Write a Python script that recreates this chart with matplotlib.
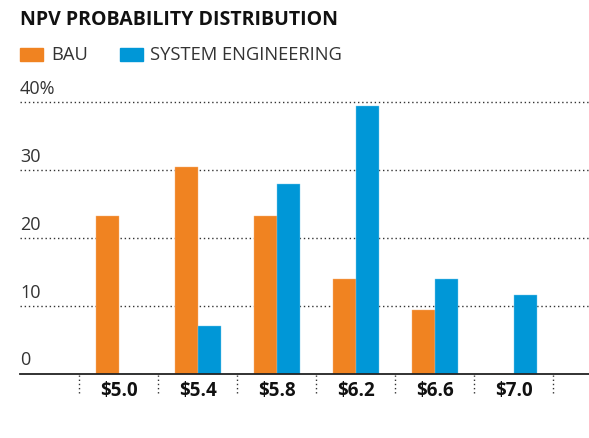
import numpy as np
import matplotlib
matplotlib.use("Agg")
import matplotlib.pyplot as plt
from matplotlib.patches import Rectangle

plt.rcParams['font.family'] = ['Open Sans', 'DejaVu Sans']

# NPV bins (billions) and probability of each outcome, in percent
npv_labels = ['$5.0', '$5.4', '$5.8', '$6.2', '$6.6', '$7.0']
bau = [23.3, 30.4, 23.3, 13.9, 9.3, 0.0]
system_eng = [0.0, 7.0, 28.0, 39.5, 13.9, 11.6]
y_ticks = [0, 10, 20, 30, 40]
y_tick_labels = ['0', '10', '20', '30', '40%']

ORANGE = '#F08321'
BLUE = '#0097D7'
TEXT = '#333333'

fig = plt.figure(figsize=(5.89, 4.38), dpi=100)
W, H = 589, 438

# axes placed in pixel terms: left edge at 20px, baseline at y=373.5px
ax_left, ax_right = 20, 589
base_px, top_px = 373.5, 102.3
ax = fig.add_axes([ax_left / W, (H - base_px) / H,
                   (ax_right - ax_left) / W, (base_px - top_px) / H])

x = np.arange(len(npv_labels))
step_px = 79.0
first_px = 118.5
xmin = (ax_left - first_px) / step_px
xmax = (ax_right - first_px) / step_px
ax.set_xlim(xmin, xmax)
ax.set_ylim(0, 40)

bw = 23 / step_px
ax.bar(x - bw / 2, bau, width=bw, color=ORANGE, edgecolor='#F6B27A',
       linewidth=0.3, zorder=3)
ax.bar(x + bw / 2, system_eng, width=bw, color=BLUE, edgecolor='#7CCBEE',
       linewidth=0.3, zorder=3)

# dotted horizontal gridlines
for v in y_ticks[1:]:
    ax.axhline(v, color=TEXT, linestyle=(0, (1, 2)), linewidth=1.0,
               zorder=1, clip_on=False)

for s in ['top', 'right', 'left']:
    ax.spines[s].set_visible(False)
ax.spines['bottom'].set_color('#222222')
ax.spines['bottom'].set_linewidth(1.3)
ax.spines['bottom'].set_zorder(4)

ax.set_yticks([])
ax.set_xticks([])

# y labels sit just above their gridlines at the far left
for v, lab in zip(y_ticks, y_tick_labels):
    ax.text(xmin, v + 0.6, lab, ha='left', va='bottom', fontsize=13,
            color=TEXT)

# category labels and dotted separators under the baseline
sep_depth = 2.9
for xi, lab in zip(x, npv_labels):
    ax.text(xi, -2.65, lab, ha='center', va='center', fontsize=13.5,
            fontweight='bold', color='#111111', clip_on=False)
for xs in np.arange(len(npv_labels) + 1) - 0.5:
    ax.plot([xs, xs], [-sep_depth, -0.2], color=TEXT, linestyle=(0, (1, 2)),
            linewidth=1.0, clip_on=False)

# title
fig.text(20 / W, 1 - 20 / H, 'NPV PROBABILITY DISTRIBUTION', ha='left',
         va='center', fontsize=14, fontweight='bold', color='#111111')

# legend drawn by hand: swatch then label
legend_y = 54.5
for x0, col, lab, tx in [(20, ORANGE, 'BAU', 51), (120, BLUE, 'SYSTEM ENGINEERING', 150)]:
    fig.patches.append(Rectangle((x0 / W, 1 - 61 / H), 23 / W, 13 / H,
                                 transform=fig.transFigure, color=col))
    fig.text(tx / W, 1 - legend_y / H, lab, ha='left', va='center',
             fontsize=13.2, color=TEXT)

fig.savefig('out.png', dpi=100)
